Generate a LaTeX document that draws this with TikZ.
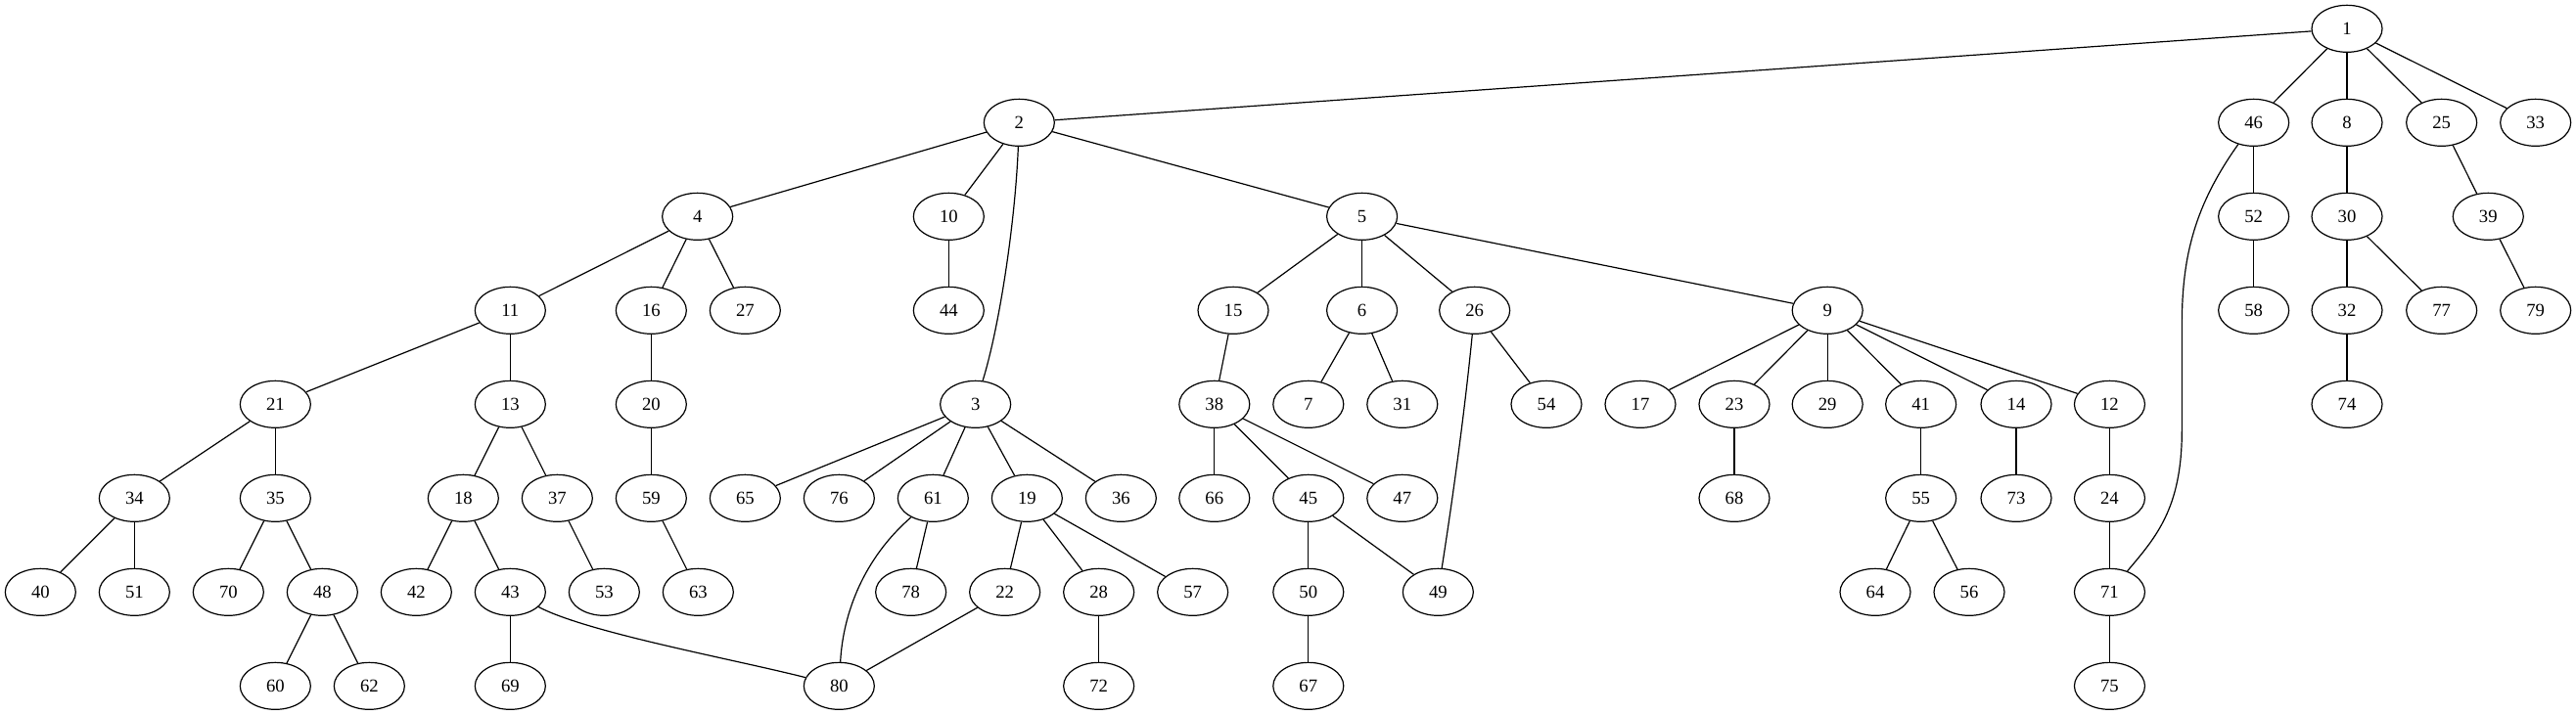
\documentclass[tikz,border=0pt]{standalone}
\usepackage{fontspec}
\setmainfont{Liberation Serif}
\usetikzlibrary{shapes.geometric}
\begin{document}
\begin{tikzpicture}[x=1pt,y=1pt,
  nd/.style={draw,ellipse,minimum width=54pt,minimum height=36pt,inner sep=0pt,line width=0.9pt,font=\fontsize{14}{16}\selectfont},
  every path/.style={line width=0.9pt}]
\useasboundingbox (0,0) rectangle (1974,-548.25);
% rank 0
\node[nd] (n1) at (1798.5,-22) {1};
% rank 1
\node[nd] (n2) at (781,-94) {2};
\node[nd] (n46) at (1727,-94) {46};
\node[nd] (n8) at (1798.5,-94) {8};
\node[nd] (n25) at (1871,-94) {25};
\node[nd] (n33) at (1943,-94) {33};
% rank 2
\node[nd] (n4) at (534.5,-166) {4};
\node[nd] (n10) at (727,-166) {10};
\node[nd] (n5) at (1043.7,-166) {5};
\node[nd] (n52) at (1727,-166) {52};
\node[nd] (n30) at (1798.5,-166) {30};
\node[nd] (n39) at (1906.7,-166) {39};
% rank 3
\node[nd] (n11) at (391,-238) {11};
\node[nd] (n16) at (499,-238) {16};
\node[nd] (n27) at (571,-238) {27};
\node[nd] (n44) at (727,-238) {44};
\node[nd] (n15) at (945,-238) {15};
\node[nd] (n6) at (1043.7,-238) {6};
\node[nd] (n26) at (1130,-238) {26};
\node[nd] (n9) at (1400.4,-238) {9};
\node[nd] (n58) at (1727,-238) {58};
\node[nd] (n32) at (1798.5,-238) {32};
\node[nd] (n77) at (1871,-238) {77};
\node[nd] (n79) at (1943,-238) {79};
% rank 4
\node[nd] (n21) at (211,-310) {21};
\node[nd] (n13) at (391,-310) {13};
\node[nd] (n20) at (499,-310) {20};
\node[nd] (n3) at (747.5,-310) {3};
\node[nd] (n38) at (930.6,-310) {38};
\node[nd] (n7) at (1002.6,-310) {7};
\node[nd] (n31) at (1074.6,-310) {31};
\node[nd] (n54) at (1185,-310) {54};
\node[nd] (n17) at (1257,-310) {17};
\node[nd] (n23) at (1329,-310) {23};
\node[nd] (n29) at (1400.4,-310) {29};
\node[nd] (n41) at (1472,-310) {41};
\node[nd] (n14) at (1545,-310) {14};
\node[nd] (n12) at (1616.6,-310) {12};
\node[nd] (n74) at (1798.5,-310) {74};
% rank 5
\node[nd] (n34) at (103,-382) {34};
\node[nd] (n35) at (211,-382) {35};
\node[nd] (n18) at (355,-382) {18};
\node[nd] (n37) at (427,-382) {37};
\node[nd] (n59) at (499,-382) {59};
\node[nd] (n65) at (571,-382) {65};
\node[nd] (n76) at (643,-382) {76};
\node[nd] (n61) at (715,-382) {61};
\node[nd] (n19) at (787,-382) {19};
\node[nd] (n36) at (859,-382) {36};
\node[nd] (n66) at (930.6,-382) {66};
\node[nd] (n45) at (1002.6,-382) {45};
\node[nd] (n47) at (1074.6,-382) {47};
\node[nd] (n68) at (1329,-382) {68};
\node[nd] (n55) at (1472,-382) {55};
\node[nd] (n73) at (1545,-382) {73};
\node[nd] (n24) at (1616.6,-382) {24};
% rank 6
\node[nd] (n40) at (31,-454) {40};
\node[nd] (n51) at (103,-454) {51};
\node[nd] (n70) at (175,-454) {70};
\node[nd] (n48) at (247,-454) {48};
\node[nd] (n42) at (319,-454) {42};
\node[nd] (n43) at (391,-454) {43};
\node[nd] (n53) at (463,-454) {53};
\node[nd] (n63) at (535,-454) {63};
\node[nd] (n78) at (698,-454) {78};
\node[nd] (n22) at (770,-454) {22};
\node[nd] (n28) at (842,-454) {28};
\node[nd] (n57) at (914,-454) {57};
\node[nd] (n50) at (1002.6,-454) {50};
\node[nd] (n49) at (1102,-454) {49};
\node[nd] (n64) at (1437,-454) {64};
\node[nd] (n56) at (1509,-454) {56};
\node[nd] (n71) at (1616.6,-454) {71};
% rank 7
\node[nd] (n60) at (211,-526) {60};
\node[nd] (n62) at (283,-526) {62};
\node[nd] (n69) at (391,-526) {69};
\node[nd] (n80) at (643,-526) {80};
\node[nd] (n72) at (842,-526) {72};
\node[nd] (n67) at (1002.6,-526) {67};
\node[nd] (n75) at (1616.6,-526) {75};
% straight edges
\foreach \a/\b in {1/2,1/46,1/8,1/25,1/33,
  2/4,2/10,2/5,46/52,8/30,25/39,
  4/11,4/16,4/27,10/44,5/15,5/6,5/26,5/9,52/58,30/32,30/77,39/79,
  11/21,11/13,16/20,15/38,6/7,6/31,26/54,9/17,9/23,9/29,9/41,9/14,9/12,32/74,
  21/34,21/35,13/18,13/37,20/59,3/65,3/76,3/61,3/19,3/36,38/66,38/45,38/47,23/68,41/55,14/73,12/24,
  34/40,34/51,35/70,35/48,18/42,18/43,37/53,59/63,61/78,19/22,19/28,19/57,45/50,45/49,55/64,55/56,24/71,
  48/60,48/62,43/69,22/80,28/72,50/67,71/75}
  \draw (n\a) -- (n\b);
% curved edges
\draw (n2) .. controls (778,-170) and (766,-250) .. (n3);
\draw (n46) .. controls (1680,-160) and (1672,-200) .. (1672,-250) -- (1672,-330) .. controls (1672,-390) and (1652,-412) .. (n71);
\draw (n61) .. controls (662,-428) and (646,-470) .. (n80);
\draw (n43) .. controls (450,-485) and (560,-505) .. (n80);
\draw (n26) .. controls (1122,-320) and (1112,-390) .. (n49);
\end{tikzpicture}
\end{document}
